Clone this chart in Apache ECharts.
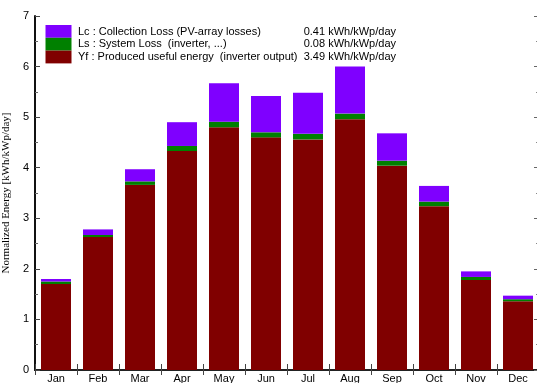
<!DOCTYPE html>
<html>
<head>
<meta charset="utf-8">
<script src="https://cdn.jsdelivr.net/npm/echarts@6/dist/echarts.min.js"></script>
<style>
  html, body { margin: 0; padding: 0; background: #fff; }
  #chart { width: 537px; height: 383px; }
</style>
</head>
<body>
<div id="chart"></div>
<script>
// Monthly normalized energy, kWh/kWp/day
const months = ['Jan', 'Feb', 'Mar', 'Apr', 'May', 'Jun', 'Jul', 'Aug', 'Sep', 'Oct', 'Nov', 'Dec'];
const yfValues = [1.70, 2.63, 3.66, 4.33, 4.80, 4.60, 4.56, 4.96, 4.04, 3.24, 1.78, 1.36];
const lsValues = [0.05, 0.04, 0.07, 0.10, 0.11, 0.10, 0.11, 0.11, 0.10, 0.09, 0.06, 0.04];
const lcValues = [0.05, 0.11, 0.24, 0.47, 0.76, 0.72, 0.81, 0.93, 0.54, 0.31, 0.11, 0.07];

// Legend rows, top to bottom
const legendLabels = [
  'Lc : Collection Loss (PV-array losses)',
  'Ls : System Loss  (inverter, ...)',
  'Yf : Produced useful energy  (inverter output)'
];
const legendValues = ['0.41 kWh/kWp/day', '0.08 kWh/kWp/day', '3.49 kWh/kWp/day'];
const legendColors = ['#7f00ff', '#008000', '#800000'];

const yTitle = 'Normalized Energy [kWh/kWp/day]';

const chart = echarts.init(document.getElementById('chart'), null, { renderer: 'canvas' });

const sansFont = '"Liberation Sans", Arial, sans-serif';
const serifFont = '"Liberation Serif", "Times New Roman", serif';

// Legend drawn as stacked swatches with text
const legendGraphics = [];
legendLabels.forEach(function (label, i) {
  legendGraphics.push({
    type: 'rect',
    shape: { x: 45.5, y: 25 + i * 12.8, width: 26, height: 12.8 },
    style: { fill: legendColors[i] }
  });
  legendGraphics.push({
    type: 'text',
    x: 78, y: 31.5 + i * 12.8,
    style: {
      text: label, fill: '#000', font: '11px ' + sansFont,
      textAlign: 'left', textVerticalAlign: 'middle'
    }
  });
  legendGraphics.push({
    type: 'text',
    x: 396, y: 31.5 + i * 12.8,
    style: {
      text: legendValues[i], fill: '#000', font: '11px ' + sansFont,
      textAlign: 'right', textVerticalAlign: 'middle'
    }
  });
});

function barSeries(name, data, color) {
  return {
    name: name,
    type: 'bar',
    stack: 'energy',
    data: data,
    barWidth: 30,
    itemStyle: { color: color },
    emphasis: { disabled: true },
    animation: false
  };
}

chart.setOption({
  animation: false,
  grid: { left: 35, right: -2, top: 16, bottom: 13, containLabel: false, outerBoundsMode: 'none' },
  xAxis: [
    {
      type: 'category',
      data: months,
      position: 'bottom',
      axisLine: { show: true, lineStyle: { color: '#111', width: 2 } },
      axisTick: { show: true, inside: true, length: 6, alignWithLabel: false, lineStyle: { color: '#444' } },
      axisLabel: { color: '#000', fontSize: 11, fontFamily: sansFont, margin: 3 },
      splitLine: { show: false }
    },
    {
      type: 'category',
      data: months,
      position: 'top',
      axisLine: { show: true, lineStyle: { color: '#222', width: 2 } },
      axisTick: { show: true, inside: true, length: 5, lineStyle: { color: '#444' } },
      axisLabel: { show: false },
      splitLine: { show: false }
    }
  ],
  yAxis: [
    {
      type: 'value',
      min: 0, max: 7, interval: 1,
      position: 'left',
      name: yTitle,
      nameLocation: 'middle',
      nameRotate: 90,
      nameGap: 17,
      nameTextStyle: { color: '#000', fontSize: 11, fontFamily: serifFont },
      axisLine: { show: true, lineStyle: { color: '#111', width: 2 } },
      axisTick: { show: true, inside: true, length: 5, lineStyle: { color: '#444' } },
      minorTick: { show: true, splitNumber: 2, length: 3, lineStyle: { color: '#666' } },
      axisLabel: { color: '#000', fontSize: 11, fontFamily: sansFont, margin: 6 },
      splitLine: { show: false }
    },
    {
      type: 'value',
      min: 0, max: 7, interval: 1,
      position: 'right',
      axisLine: { show: false },
      axisTick: { show: true, inside: true, length: 5, lineStyle: { color: '#666' } },
      minorTick: { show: true, splitNumber: 2, length: 3, lineStyle: { color: '#888' } },
      axisLabel: { show: false },
      splitLine: { show: false }
    }
  ],
  series: [
    barSeries('Yf', yfValues, legendColors[2]),
    barSeries('Ls', lsValues, legendColors[1]),
    barSeries('Lc', lcValues, legendColors[0])
  ],
  graphic: legendGraphics
});
</script>
</body>
</html>
